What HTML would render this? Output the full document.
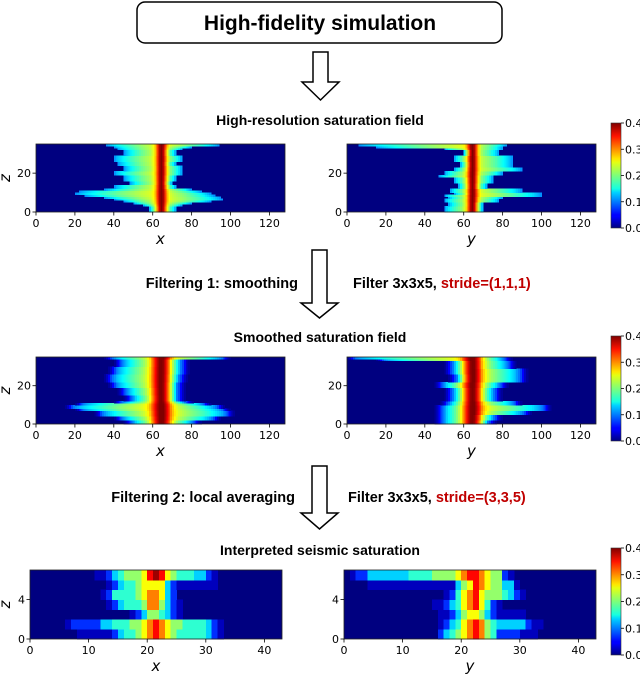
<!DOCTYPE html>
<html><head><meta charset="utf-8"><style>
html,body{margin:0;padding:0;background:#fff;width:640px;height:675px;overflow:hidden}
svg{display:block}
text{font-family:"DejaVu Sans","Liberation Sans",sans-serif}
.b{font-family:"Liberation Sans",sans-serif;font-weight:bold}
</style></head><body>
<svg id="fig" width="640" height="675" viewBox="0 0 640 675" xmlns="http://www.w3.org/2000/svg">
<defs>
<linearGradient id="jet" x1="0" y1="1" x2="0" y2="0">
<stop offset="0" stop-color="#000080"/><stop offset="0.11" stop-color="#0000ff"/>
<stop offset="0.125" stop-color="#0000ff"/><stop offset="0.34" stop-color="#00d4ff"/>
<stop offset="0.375" stop-color="#16ffe1"/><stop offset="0.5" stop-color="#7dff7a"/>
<stop offset="0.625" stop-color="#e4ff13"/><stop offset="0.66" stop-color="#ffe600"/>
<stop offset="0.875" stop-color="#ff1300"/><stop offset="1" stop-color="#800000"/>
</linearGradient>
</defs>
<rect x="137" y="2" width="365" height="41" rx="8" fill="#fff" stroke="#000" stroke-width="1.5"/>
<text x="320" y="30" class="b" font-size="21" text-anchor="middle">High-fidelity simulation</text>
<text x="320" y="125" class="b" font-size="14" text-anchor="middle">High-resolution saturation field</text>
<text x="320" y="342" class="b" font-size="14" text-anchor="middle">Smoothed saturation field</text>
<text x="320" y="555" class="b" font-size="14" text-anchor="middle">Interpreted seismic saturation</text>
<text x="298" y="288" class="b" font-size="14.5" text-anchor="end">Filtering 1: smoothing</text>
<text x="353" y="288" class="b" font-size="14.5">Filter 3x3x5, <tspan fill="#c00000">stride=(1,1,1)</tspan></text>
<text x="295" y="502" class="b" font-size="14.5" text-anchor="end">Filtering 2: local averaging</text>
<text x="348" y="502" class="b" font-size="14.5">Filter 3x3x5, <tspan fill="#c00000">stride=(3,3,5)</tspan></text>
<g id="panels"></g>
</svg>
<script>
// high-resolution field extents per row z=0..34 (left / right edge)
const hiXL=[58,58,58,55,50,45,40,35,25,20,22,35,40,40,48,48,45,45,45,40,40,45,45,45,42,42,40,40,40,45,45,45,42,40,36];
const hiXR=[72,72,72,75,80,90,96,95,92,90,85,80,72,72,70,70,72,72,72,75,75,75,75,75,72,72,75,75,75,72,72,72,75,80,94];
const hiYL=[50,50,50,52,52,50,50,52,50,55,53,53,57,57,57,55,55,55,47,50,50,55,55,58,58,58,55,55,55,60,60,60,50,15,6];
const hiYR=[70,70,70,70,70,78,78,80,100,100,90,90,72,72,72,75,75,75,75,80,80,90,90,85,85,85,85,85,85,78,78,78,80,80,82];
// smoothed field extents per row
const smXL=[50,50,45,45,35,35,35,25,20,20,25,45,50,50,50,47,47,47,47,42,42,42,40,40,40,40,42,42,42,42,45,45,45,45,40];
const smXR=[80,80,90,90,97,97,97,95,92,92,85,76,72,72,72,72,72,72,72,72,72,72,73,73,73,73,74,74,74,74,74,74,74,74,95];
const smYL=[50,50,50,50,50,50,50,50,50,50,53,53,55,55,55,55,55,55,55,50,50,50,57,57,57,57,55,55,55,55,55,55,55,20,5];
const smYR=[72,72,75,75,75,90,90,100,100,100,85,85,75,75,75,75,75,75,75,78,78,78,88,88,88,88,88,88,88,82,82,82,82,80,80];
// seismic grids, rows z=0..6, digit levels 0..9
const seisX=["0000000011111123445678765444443210000000000","0000001222223344455678765544443210000000000","0000000000000000012355432100000000000000000","0000000000000123444577532100000000000000000","0000000000001244445677632000000000000000000","0000000000000123445666632111111100000000000","0000000000011234555689865444332100000000000"];
const seisY=["0000000000000000234567875422221110000000000","0000000000000000123467875433333211000000000","0000000000000000112356653211111000000000000","0000000000000001123467864210000000000000000","0000000000000000012467865554321000000000000","0000111111111111111356876553310000000000000","0122333333344445555678876552100000000000000"];
const levels=[0,0.06,0.17,0.33,0.42,0.52,0.62,0.75,0.87,0.97];
const xTicksHi=[0,20,40,60,80,100,120], zTicksHi=[0,20];
const xTicksLo=[0,10,20,30,40], zTicksLo=[0,4];
const cbTicks=["0.0","0.1","0.2","0.3","0.4"];

const NS="http://www.w3.org/2000/svg";
const G=document.getElementById('panels');
function el(t,a,p){const e=document.createElementNS(NS,t);for(const k in a)e.setAttribute(k,a[k]);(p||G).appendChild(e);return e;}
function cl(v){return Math.max(0,Math.min(1,v));}
function jet(f){const r=cl(1.5-Math.abs(4*f-3)),g=cl(1.5-Math.abs(4*f-2)),b=cl(1.5-Math.abs(4*f-1));return `rgb(${Math.round(r*255)},${Math.round(g*255)},${Math.round(b*255)})`;}
function hiVal(x,L,R){const c=64.5;if(x<L||x>R)return 0;const d=Math.abs(x-c);const h=Math.max(1,x<c?c-L:R-c);const t=Math.min(1,d/h);return 0.1+0.15*Math.pow(1-t,0.7)+0.16*Math.exp(-(d/2.5)*(d/2.5));}
function smVal(x,L,R){const c=64.5;const d=Math.abs(x-c);if(x<L||x>R){const o=x<L?L-x:x-R;return 0.1*Math.exp(-(o/3)*(o/3));}const h=Math.max(1,x<c?c-L:R-c);const t=Math.min(1,d/h);return 0.1+0.16*Math.pow(1-t,0.7)+0.15*Math.exp(-(d/5)*(d/5));}

function panel(name,x0,y0,w,h,nx,nz,valFn,xmax,zmax,xt,zt,xl){
  const g=el('g',{});
  
  
  const bg=el('rect',{x:x0,y:y0,width:w,height:h,fill:'#000080'},g);
  
  
  const sx=v=>x0+v/xmax*w, sz=v=>y0+h-v/zmax*h;
  for(let z=0;z<nz;z++){for(let i=0;i<nx;i++){const v=valFn(i,z);if(v<=0.004)continue;
    const r=el('rect',{x:sx(i).toFixed(2),y:sz(z+1).toFixed(2),width:(w/nx+0.4).toFixed(2),height:(h/nz+0.4).toFixed(2),fill:jet(cl(v/0.4)),'shape-rendering':'crispEdges'},g);
    
    }}
  const fr=el('rect',{x:x0,y:y0,width:w,height:h,fill:'none',stroke:'#222','stroke-width':0.8},g);
  
  
  xt.forEach(v=>{const X=sx(v);el('line',{x1:X,x2:X,y1:y0+h,y2:y0+h+3.5,stroke:'#000','stroke-width':0.8},g);
    const t=el('text',{x:X,y:y0+h+15,'font-size':11,'text-anchor':'middle'},g);t.textContent=v;
    
    });
  zt.forEach(v=>{const Y=sz(v);el('line',{x1:x0-3.5,x2:x0,y1:Y,y2:Y,stroke:'#000','stroke-width':0.8},g);
    const t=el('text',{x:x0-5,y:Y+4,'font-size':11,'text-anchor':'end'},g);t.textContent=v;
    
    });
  const xlab=el('text',{x:x0+w/2,y:y0+h+32,'font-size':15,'font-style':'italic','text-anchor':'middle'},g);xlab.textContent=xl;
  
  
  if(xl==='x'){const zx=10;const zl=el('text',{x:zx,y:y0+h/2,'font-size':15,'font-style':'italic','text-anchor':'middle',transform:`rotate(-90 ${zx} ${y0+h/2})`},g);zl.textContent='z';
    
    }
}
function colorbar(name,y0,h){
  const g=el('g',{});
  
  
  el('rect',{x:611,y:y0,width:10,height:h,fill:'url(#jet)',stroke:'#333','stroke-width':0.6},g);
  cbTicks.forEach((s,i)=>{const Y=y0+h-i/(cbTicks.length-1)*h;el('line',{x1:621,x2:624,y1:Y,y2:Y,stroke:'#000','stroke-width':0.8},g);
    const t=el('text',{x:625,y:Y+4,'font-size':11},g);t.textContent=s;
    
    });
}
function arrow(name,x1,x2,top,neck,tip){
  const p=el('path',{d:`M${x1} ${top}H${x2}V${neck}H${x2+11}L${(x1+x2)/2} ${tip}L${x1-11} ${neck}H${x1}Z`,fill:'#fff',stroke:'#000','stroke-width':1.5});
  
  
}
arrow('arrow-1',313,328,52,82,100);
arrow('arrow-2',312,327,250,303,318);
arrow('arrow-3',312,327,466,513,529);

panel('high-res-x-panel',36,144,249,68,128,35,(i,z)=>hiVal(i+0.5,hiXL[z],hiXR[z]),128,35,xTicksHi,zTicksHi,'x');
panel('high-res-y-panel',347,144,249,68,128,35,(i,z)=>hiVal(i+0.5,hiYL[z],hiYR[z]),128,35,xTicksHi,zTicksHi,'y');
colorbar('colorbar-1',123,105);
panel('smoothed-x-panel',36,357,249,67,128,35,(i,z)=>smVal(i+0.5,smXL[z],smXR[z]),128,35,xTicksHi,zTicksHi,'x');
panel('smoothed-y-panel',347,357,249,67,128,35,(i,z)=>smVal(i+0.5,smYL[z],smYR[z]),128,35,xTicksHi,zTicksHi,'y');
colorbar('colorbar-2',336,105);
panel('seismic-x-panel',30,570,252,69,43,7,(i,z)=>levels[+seisX[z][i]]*0.4,43,7,xTicksLo,zTicksLo,'x');
panel('seismic-y-panel',344,570,252,69,43,7,(i,z)=>levels[+seisY[z][i]]*0.4,43,7,xTicksLo,zTicksLo,'y');
colorbar('colorbar-3',548,107);
</script>
</body></html>
